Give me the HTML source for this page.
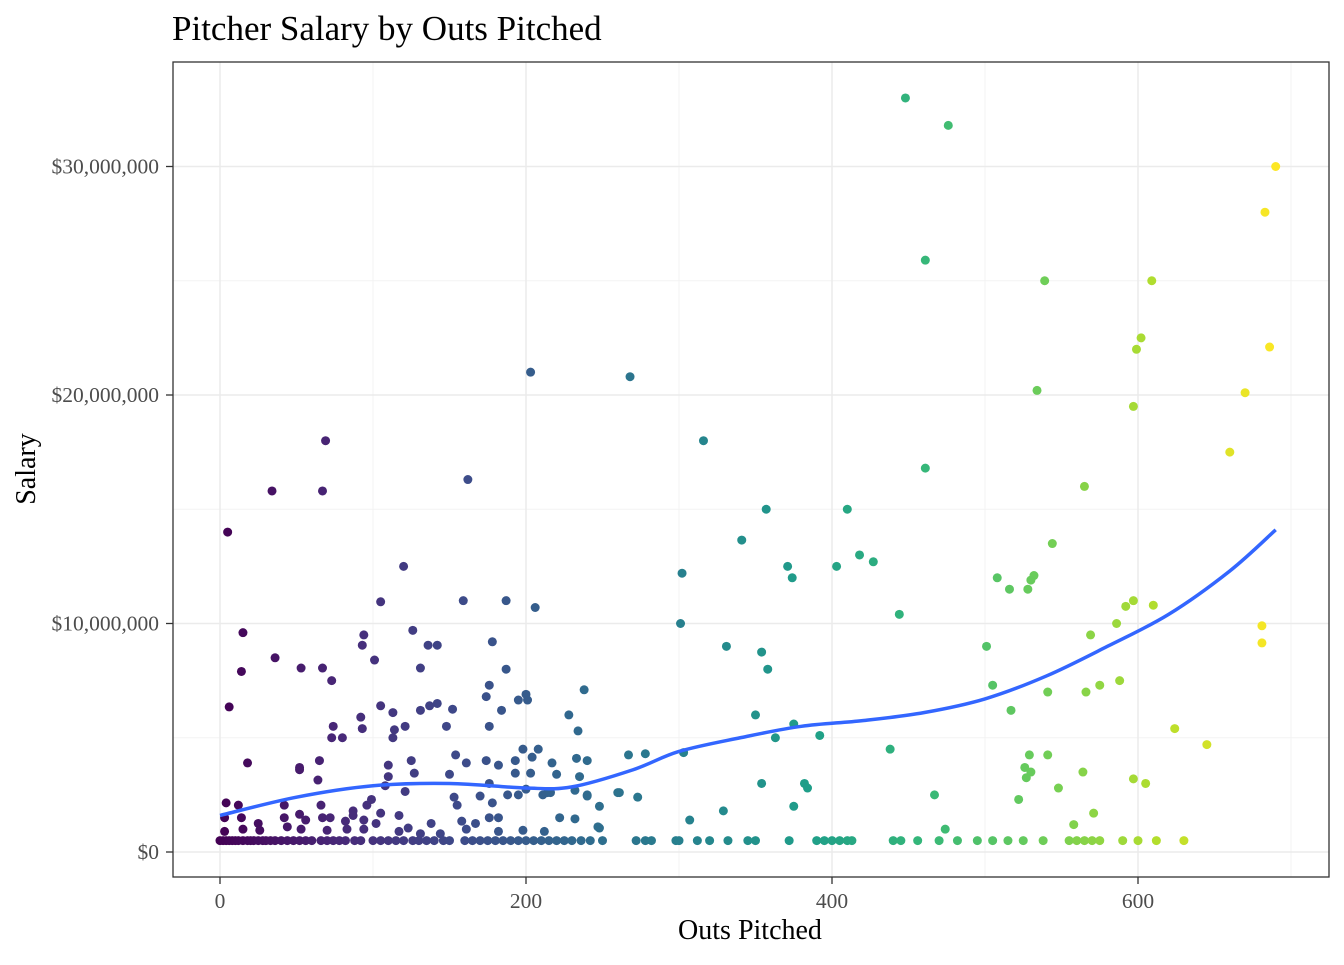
<!DOCTYPE html>
<html><head><meta charset="utf-8"><style>
body{margin:0;background:#fff;}
svg text{font-family:"Liberation Serif",serif;}
</style></head><body>
<svg id="chart" width="1344" height="960">
<rect width="1344" height="960" fill="#fff"/>
<text x="172" y="40" font-size="35" fill="#000">Pitcher Salary by Outs Pitched</text>
<g id="grid"></g>
<g id="pts"></g>
<path id="smooth" fill="none" stroke="#3366FF" stroke-width="3.5"/>
<rect x="173" y="62" width="1156" height="815" fill="none" stroke="#333" stroke-width="1.3"/>
<g id="axes"></g>
<text x="750" y="939" font-size="28" text-anchor="middle">Outs Pitched</text>
<text transform="translate(35,469) rotate(-90)" font-size="28" text-anchor="middle">Salary</text>
</svg>
<script>
const outsA=[5,6,15,14,18,34,36,69,67,53,67,73,52,65,64,74,73,80,93,94,101,92,93,105,105,120,126,113,114,113,121,131,136,142,131,137,142,148,152,159,162,176,176,174,178,187,187,184,195,200,201,203,206,268,316,302,301,341,331,357,371,374,354,358,350,363,375,354,375,382,384,392,410,403,418,427,444,438,448,476,461,461,467,474,539,534,609,602,599,597,565,544,532,530,528,516,508,597,592,610,586,569,501,505,517,541,566,575,588,529,541,526,530,527,548,522,564,571,558,597,605,624,645,690,683,686,670,660,681,681,
228,234,238,267,278,273,303,307,329,260,248,240,247,220,232,232,214];
const salaryA=[14.0,6.35,9.6,7.9,3.9,15.8,8.5,18.0,15.8,8.05,8.05,7.5,3.7,4.0,3.15,5.5,5.0,5.0,9.05,9.5,8.4,5.9,5.4,6.4,10.95,12.5,9.7,6.1,5.35,5.0,5.5,8.05,9.05,9.05,6.2,6.4,6.5,5.5,6.25,11.0,16.3,5.5,7.3,6.8,9.2,11.0,8.0,6.2,6.65,6.9,6.65,21.0,10.7,20.8,18.0,12.2,10.0,13.65,9.0,15.0,12.5,12.0,8.75,8.0,6.0,5.0,5.6,3.0,2.0,3.0,2.8,5.1,15.0,12.5,13.0,12.7,10.4,4.5,33.0,31.8,25.9,16.8,2.5,1.0,25.0,20.2,25.0,22.5,22.0,19.5,16.0,13.5,12.1,11.9,11.5,11.5,12.0,11.0,10.75,10.8,10.0,9.5,9.0,7.3,6.2,7.0,7.0,7.3,7.5,4.25,4.25,3.7,3.5,3.25,2.8,2.3,3.5,1.7,1.2,3.2,3.0,5.4,4.7,30.0,28.0,22.1,20.1,17.5,9.9,9.15,
6.0,5.3,7.1,4.25,4.3,2.4,4.35,1.4,1.8,2.6,2.0,2.45,1.1,3.4,1.45,2.7,2.6];
const outsB=[4,12,14,3,3,15,25,26,42,42,44,52,52,56,53,66,67,72,70,82,83,87,87,94,94,96,99,102,105,110,110,108,117,117,123,121,127,125,131,138,144,150,154,161,153,155,158,161,167,170,174,176,178,176,182,182,182,188,193,193,195,198,200,198,204,203,208,211,216,212,217,222,233,240,235,240,248,261];
const salaryB=[2.15,2.05,1.5,1.5,0.9,1.0,1.25,0.95,2.05,1.5,1.1,3.6,1.65,1.4,1.0,2.05,1.5,1.5,0.95,1.35,1.0,1.8,1.6,1.4,1.0,2.05,2.3,1.25,1.7,3.8,3.3,2.9,1.6,0.9,1.05,2.65,3.45,4.0,0.8,1.25,0.8,3.4,4.25,3.9,2.4,2.05,1.35,1.0,1.25,2.45,4.0,3.0,2.15,1.5,3.8,1.5,0.9,2.5,4.0,3.45,2.5,4.5,2.75,0.95,4.15,3.45,4.5,2.5,2.6,0.9,3.9,1.5,4.1,4.0,3.3,2.5,1.05,2.6];
const outsMin=[0,2,4,6,8,10,12,15,18,20,22,25,28,30,33,36,40,44,48,52,56,60,66,70,74,78,82,88,92,100,105,110,115,120,126,130,135,140,146,150,160,165,170,175,180,185,190,195,200,205,210,215,220,225,230,236,242,250,272,278,282,298,300,312,320,332,345,350,372,390,395,400,405,410,413,440,445,456,470,482,495,505,515,525,538,555,560,565,570,575,590,600,612,630];
const minSalary=0.5;
const smoothX=[0,50,100,150,200,230,270,300,340,380,420,460,500,540,580,620,660,690];
const smoothY=[1.6,2.4,2.9,3.0,2.8,2.85,3.6,4.4,5.0,5.5,5.75,6.1,6.7,7.7,9.0,10.4,12.3,14.1];
const xTicks=[0,200,400,600];
const xTickLabels=["0","200","400","600"];
const yTicks=[0,10,20,30];
const yTickLabels=["$0","$10,000,000","$20,000,000","$30,000,000"];
const xMinor=[100,300,500,700];
const yMinor=[5,15,25];

const outs=outsA.concat(outsB,outsMin);
const salary=salaryA.concat(salaryB,outsMin.map(()=>minSalary));
const X=v=>220+v*1.53, Y=v=>852-v*22.85;
const NS="http://www.w3.org/2000/svg";
function mk(t,a,p){const e=document.createElementNS(NS,t);for(const k in a)e.setAttribute(k,a[k]);p.appendChild(e);return e;}
const grid=document.getElementById('grid'),axes=document.getElementById('axes'),pts=document.getElementById('pts');
xMinor.forEach(v=>{const l=mk('line',{x1:X(v),x2:X(v),y1:62,y2:877,stroke:'#f3f3f3','stroke-width':1},grid);

});
yMinor.forEach(v=>{const l=mk('line',{x1:173,x2:1329,y1:Y(v),y2:Y(v),stroke:'#f3f3f3','stroke-width':1},grid);

});
xTicks.forEach((v,i)=>{const l=mk('line',{x1:X(v),x2:X(v),y1:62,y2:877,stroke:'#ebebeb','stroke-width':1.5},grid);


mk('line',{x1:X(v),x2:X(v),y1:877,y2:884,stroke:'#333','stroke-width':1.3},axes);
const t=mk('text',{x:X(v),y:908,'font-size':21.5,'text-anchor':'middle',fill:'#4d4d4d'},axes);t.textContent=xTickLabels[i];

});
yTicks.forEach((v,i)=>{const l=mk('line',{x1:173,x2:1329,y1:Y(v),y2:Y(v),stroke:'#ebebeb','stroke-width':1.5},grid);


mk('line',{x1:166,x2:173,y1:Y(v),y2:Y(v),stroke:'#333','stroke-width':1.3},axes);
const t=mk('text',{x:159,y:Y(v)+7,'font-size':21.5,'text-anchor':'end',fill:'#4d4d4d'},axes);t.textContent=yTickLabels[i];

});
const vir=[[68,1,84],[72,40,120],[62,73,137],[49,104,142],[38,130,142],[31,158,137],[53,183,121],[109,205,89],[180,222,44],[253,231,37]];
function col(t){t=Math.max(0,Math.min(1,t))*(vir.length-1);const i=Math.min(Math.floor(t),vir.length-2),f=t-i;
return 'rgb('+vir[i].map((c,k)=>Math.round(c+(vir[i+1][k]-c)*f)).join(',')+')';}
const mx=Math.max(...outs);
outs.forEach((o,i)=>{const c=mk('circle',{cx:X(o),cy:Y(salary[i]),r:4.5,fill:col(o/mx)},pts);

});
const P=smoothX.map((v,i)=>[X(v),Y(smoothY[i])]);
let d='M'+P[0][0]+','+P[0][1];
for(let i=0;i<P.length-1;i++){const p0=P[Math.max(0,i-1)],p1=P[i],p2=P[i+1],p3=P[Math.min(P.length-1,i+2)];
d+=' C'+(p1[0]+(p2[0]-p0[0])/6)+','+(p1[1]+(p2[1]-p0[1])/6)+' '+(p2[0]-(p3[0]-p1[0])/6)+','+(p2[1]-(p3[1]-p1[1])/6)+' '+p2[0]+','+p2[1];}
document.getElementById('smooth').setAttribute('d',d);
</script>
</body></html>
